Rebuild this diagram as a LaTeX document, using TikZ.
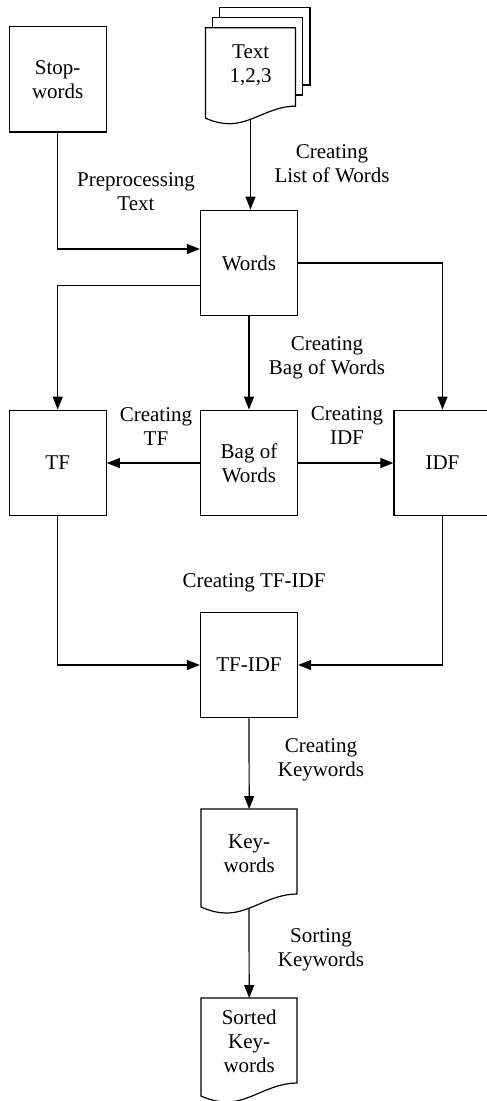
\documentclass[tikz,border=0pt]{standalone}
\usepackage{fontspec}
\setmainfont{Liberation Serif}
\usetikzlibrary{arrows.meta}
\tikzset{
  box/.style={draw, line width=1.2pt, minimum width=97pt, minimum height=105.5pt, inner sep=0pt, align=center, fill=white},
  docnode/.style={inner sep=0pt, align=center, minimum width=96pt, anchor=north west},
  lbl/.style={align=center, inner sep=0pt},
  arr/.style={line width=1.2pt, -{Triangle[length=13pt,width=10pt]}},
  shp/.style={line width=1.2pt, fill=white, line join=miter},
}
\begin{document}
\begin{tikzpicture}[x=1pt,y=-1pt,font=\fontsize{21}{24}\selectfont]
\useasboundingbox (0,0) rectangle (487,1101);
\clip (0,0) rectangle (487,1101);

% stacked text documents
\draw[shp] (219.3,7.7) rectangle (310,85);
\draw[shp] (212.7,17.7) rectangle (302.3,95);
\draw[shp, shift={(205.5,27.7)}, xscale=0.9375, yscale=0.923]
  (0,0) -- (96,0) -- (96,85) .. controls (69,85) and (49,104) .. (26,104)
  .. controls (17,104) and (9,102) .. (0,98) -- cycle;
\node[docnode, minimum width=90pt, minimum height=74.6pt] (tdoc) at (205.5,27.7) {Text\\1,2,3};
\coordinate (tdocb) at (250.5,119.5);

% boxes
\node[box] (stop) at (57.7,79.3) {Stop-\\words};
\node[box] (words) at (249,263) {Words};
\node[box] (tf) at (57.7,463) {TF};
\node[box] (bag) at (249,463) {Bag of\\Words};
\node[box] (idf) at (442.5,463) {IDF};
\node[box] (tfidf) at (249,665) {TF-IDF};

% keywords document
\draw[shp, shift={(201,809)}]
  (0,0) -- (96,0) -- (96,85) .. controls (69,85) and (49,104) .. (26,104)
  .. controls (17,104) and (9,102) .. (0,98) -- cycle;
\node[docnode, minimum height=90pt] (kw) at (201,809) {Key-\\words};
\coordinate (kwb) at (249,908);

% sorted keywords document
\draw[shp, shift={(201,998)}]
  (0,0) -- (96,0) -- (96,85) .. controls (69,85) and (49,104) .. (26,104)
  .. controls (17,104) and (9,102) .. (0,98) -- cycle;
\node[docnode, minimum height=87pt] (sk) at (201,998) {Sorted\\Key-\\words};

% connectors
\draw[arr] (tdocb) -- (tdocb |- words.north);
\draw[arr] (stop.south) |- ([yshift=14pt]words.west);
\draw[arr] ([yshift=-22.7pt]words.west) -| (tf.north);
\draw[arr] (words.east) -| (idf.north);
\draw[arr] (words.south) -- (bag.north);
\draw[arr] (bag.west) -- (tf.east);
\draw[arr] (bag.east) -- (idf.west);
\draw[arr] (tf.south) |- (tfidf.west);
\draw[arr] (idf.south) |- (tfidf.east);
\draw[arr] (tfidf.south) -- (kw.north);
\draw[arr] (kwb) -- (sk.north);

% labels
\node[lbl] (l1) at (136,192) {Preprocessing\\Text};
\node[lbl] (l2) at (332,164) {Creating\\List of Words};
\node[lbl] (l3) at (327,358) {Creating\\Bag of Words};
\node[lbl] (l4) at (156,427) {Creating\\TF};
\node[lbl] (l5) at (347,426) {Creating\\IDF};
\node[lbl] (l6) at (254,583) {Creating TF-IDF};
\node[lbl] (l7) at (321,760) {Creating\\Keywords};
\node[lbl] (l8) at (321,950) {Sorting\\Keywords};
\end{tikzpicture}
\end{document}
